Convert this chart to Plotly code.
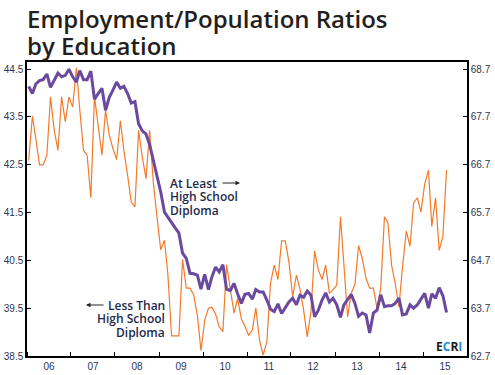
import pandas as pd
import plotly.graph_objects as go

# Monthly data, Jan 2006 .. Jul 2015
start_month = "2006-01-01"

less_than_hs = [
    42.59, 43.52, 43.05, 42.50, 42.50, 42.70, 43.92, 43.22, 42.80, 43.92, 43.40, 43.92,
    43.71, 44.53, 43.65, 42.80, 42.70, 41.81, 43.93, 43.29, 42.70, 43.64, 43.12, 42.84,
    42.61, 43.42, 42.80, 42.28, 41.72, 41.62, 43.22, 42.66, 42.21, 43.22, 42.11, 41.41,
    40.72, 40.92, 40.22, 38.92, 38.92, 38.92, 40.52, 39.92, 39.92, 39.78, 39.35, 38.61,
    39.25, 39.50, 39.52, 39.38, 39.11, 39.01, 40.41, 39.88, 39.40, 39.70, 39.28, 39.12,
    38.93, 39.05, 39.51, 38.83, 38.52, 38.80, 40.02, 40.40, 40.10, 40.91, 40.91, 40.47,
    39.74, 40.19, 39.91, 39.46, 38.90, 39.43, 40.70, 40.30, 40.10, 40.40, 39.81, 39.89,
    39.98, 41.41, 40.40, 39.32, 39.81, 40.00, 40.81, 40.54, 40.12, 39.92, 39.92, 39.50,
    39.92, 41.41, 41.30, 40.40, 40.02, 39.53, 40.37, 41.11, 40.80, 41.70, 41.81, 41.51,
    42.10, 42.39, 41.21, 41.81, 40.71, 41.00, 42.39,
]

at_least_hs = [
    68.34, 68.19, 68.39, 68.46, 68.48, 68.60, 68.32, 68.48, 68.62, 68.54, 68.57, 68.70,
    68.54, 68.43, 68.67, 68.48, 68.48, 68.66, 68.07, 68.19, 68.30, 67.84, 68.11, 68.26,
    68.43, 68.30, 68.34, 68.19, 67.99, 68.02, 67.56, 67.41, 67.34, 67.12, 66.79, 66.51,
    66.13, 65.71, 65.60, 65.50, 65.38, 65.27, 64.85, 64.74, 64.43, 64.42, 64.39, 64.10,
    64.41, 64.09, 64.35, 64.56, 64.46, 64.61, 64.10, 64.07, 64.22, 64.00, 63.80, 63.99,
    64.01, 63.89, 64.09, 64.04, 64.04, 63.87, 63.68, 63.63, 63.79, 63.59, 63.70, 63.83,
    63.91, 63.77, 63.97, 63.93, 64.06, 63.97, 63.52, 63.66, 63.87, 64.02, 63.83, 63.91,
    63.77, 63.51, 63.77, 63.87, 63.99, 63.80, 63.53, 63.60, 63.56, 63.18, 63.60, 63.66,
    63.98, 63.73, 63.75, 63.75, 63.80, 63.91, 63.56, 63.58, 63.77, 63.70, 63.77, 63.89,
    64.01, 63.70, 64.00, 63.91, 64.13, 63.96, 63.61,
]

left_ticks = [38.5, 39.5, 40.5, 41.5, 42.5, 43.5, 44.5]
right_ticks = [62.7, 63.7, 64.7, 65.7, 66.7, 67.7, 68.7]

dates = pd.date_range(start_month, periods=len(less_than_hs), freq="MS") + pd.Timedelta(days=14)

ORANGE = "#F47A2A"
PURPLE = "#6A4A9E"
NAVY = "#1E2A4A"
TICKC = "#2B3654"

fig = go.Figure()
fig.add_trace(go.Scatter(x=dates, y=less_than_hs, mode="lines",
                         line=dict(color=ORANGE, width=1.2), yaxis="y", showlegend=False))
fig.add_trace(go.Scatter(x=dates, y=at_least_hs, mode="lines",
                         line=dict(color=PURPLE, width=3), yaxis="y2", showlegend=False))

tickfont = dict(family="Liberation Sans, Arial, sans-serif", size=10, color=TICKC)

fig.update_layout(
    width=495, height=375,
    margin=dict(l=27, r=28, t=62, b=19),
    paper_bgcolor="white", plot_bgcolor="white",
    xaxis=dict(type="date", range=["2006-01-01", "2016-01-01"],
               dtick="M12", tick0="2006-01-01", tickformat="%y",
               ticklabelmode="period", ticks="inside", ticklen=4, tickcolor="black",
               showline=True, linecolor="black", linewidth=1.5, mirror=True,
               showgrid=False, zeroline=False, tickfont=tickfont, automargin=False),
    yaxis=dict(range=[38.5, 44.65], tickvals=left_ticks, tickformat=".1f",
               ticks="inside", ticklen=4, tickcolor="black",
               showline=True, linecolor="black", linewidth=1.5,
               showgrid=False, zeroline=False, tickfont=tickfont, automargin=False),
    yaxis2=dict(range=[62.7, 68.85], tickvals=right_ticks, tickformat=".1f",
                overlaying="y", side="right",
                ticks="inside", ticklen=4, tickcolor="black",
                showline=True, linecolor="black", linewidth=1.5,
                showgrid=False, zeroline=False, tickfont=tickfont, automargin=False),
)

def px_x(px):
    return (px - 27) / 440.0

def px_y(py):
    return (356 - py) / 294.0

title_font = dict(family="Open Sans, sans-serif", size=24, color="#231F20", weight=600)
ann = []
ann.append(dict(text="Employment/Population Ratios", x=px_x(26), y=px_y(18), xref="paper", yref="paper",
                xanchor="left", yanchor="middle", showarrow=False, font=title_font, borderpad=0))
ann.append(dict(text="by Education", x=px_x(26), y=px_y(45), xref="paper", yref="paper",
                xanchor="left", yanchor="middle", showarrow=False, font=title_font, borderpad=0))

lab_font = dict(family="Open Sans, sans-serif", size=12, color=NAVY, weight=600)
for txt, py in [("At Least", 183), ("High School", 196.5), ("Diploma", 210)]:
    ann.append(dict(text=txt, x=px_x(169), y=px_y(py), xref="paper", yref="paper",
                    xanchor="left", yanchor="middle", showarrow=False, font=lab_font, borderpad=0))
for txt, py in [("Less Than", 305), ("High School", 318.5), ("Diploma", 332)]:
    ann.append(dict(text=txt, x=px_x(166), y=px_y(py), xref="paper", yref="paper",
                    xanchor="right", yanchor="middle", showarrow=False, font=lab_font, borderpad=0))

# arrows
ann.append(dict(text="", x=px_x(240), y=px_y(183), xref="paper", yref="paper",
                ax=-19, ay=0, showarrow=True, arrowhead=2, arrowsize=0.9, arrowwidth=1,
                arrowcolor="#222222"))
ann.append(dict(text="", x=px_x(86), y=px_y(305), xref="paper", yref="paper",
                ax=19, ay=0, showarrow=True, arrowhead=2, arrowsize=0.9, arrowwidth=1,
                arrowcolor="#222222"))

# ECRI logo
ann.append(dict(text="<b><span style='color:#1A1A1A'>E</span><span style='color:#1B8BD6'>C</span>"
                     "<span style='color:#1A1A1A'>R</span><span style='color:#1B8BD6'>I</span></b>",
                x=px_x(463), y=px_y(346), xref="paper", yref="paper",
                xanchor="right", yanchor="middle", showarrow=False,
                font=dict(family="Open Sans, sans-serif", size=12), borderpad=0))

fig.update_layout(annotations=ann)
fig.write_html("out.html",
               config={"displayModeBar": False},
               post_script="document.body.style.margin='0';document.body.style.overflow='hidden';")
